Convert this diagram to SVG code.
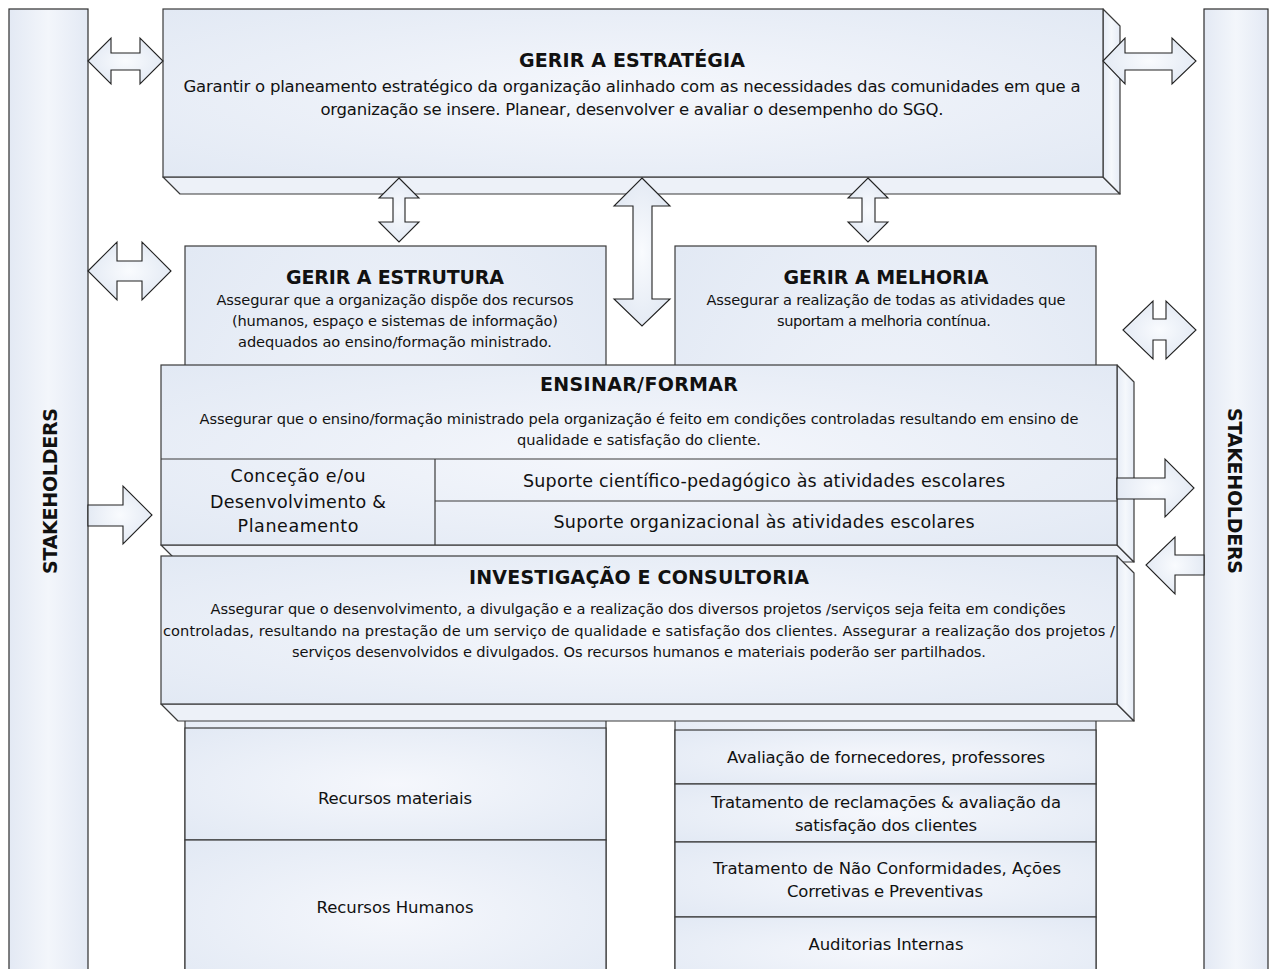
<svg xmlns="http://www.w3.org/2000/svg" width="1278" height="969" viewBox="0 0 1278 969">
<defs>
<radialGradient id="gBox" cx="50%" cy="50%" r="70%">
<stop offset="0" stop-color="#F5F7FC"/>
<stop offset="1" stop-color="#E2E9F4"/>
</radialGradient>
<radialGradient id="gArr" cx="50%" cy="50%" r="60%">
<stop offset="0" stop-color="#F9FBFE"/>
<stop offset="1" stop-color="#E0E7F2"/>
</radialGradient>
<linearGradient id="gBar" x1="0" y1="0" x2="1" y2="0">
<stop offset="0" stop-color="#E3E9F4"/>
<stop offset="0.5" stop-color="#F3F6FB"/>
<stop offset="1" stop-color="#E3E9F4"/>
</linearGradient>
<linearGradient id="gSide" x1="0" y1="0" x2="1" y2="0">
<stop offset="0" stop-color="#E6ECF6"/>
<stop offset="0.5" stop-color="#F5F8FC"/>
<stop offset="1" stop-color="#E6ECF6"/>
</linearGradient>
</defs>
<style>
.box{fill:url(#gBox);stroke:#3a3a3a;stroke-width:1.2}
.face{fill:#EDF1F8;stroke:#3a3a3a;stroke-width:1.2;stroke-linejoin:round}
.side{fill:url(#gSide);stroke:#3a3a3a;stroke-width:1.2;stroke-linejoin:round}
.bar{fill:url(#gBar);stroke:#2e2e2e;stroke-width:1.2}
.arr{fill:url(#gArr);stroke:#222;stroke-width:1.1;stroke-linejoin:miter}
.ln{stroke:#3a3a3a;stroke-width:1.2;fill:none}
text{font-family:"DejaVu Sans","Liberation Sans",sans-serif;fill:#111;text-anchor:middle}
.t{font-weight:bold;font-size:19px}
.b16{font-size:16.5px}
.b14{font-size:14.6px}
.b17{font-size:17.5px}
.sh{font-weight:bold;font-size:19px}
</style>

<g id="stakeholders-left">
<rect class="bar" x="9" y="9" width="79" height="970"/>
<text class="sh" transform="translate(57,491) rotate(-90)" textLength="166">STAKEHOLDERS</text>
</g>
<g id="stakeholders-right">
<rect class="bar" x="1204" y="9" width="64" height="970"/>
<text class="sh" transform="translate(1228,491) rotate(90)" textLength="166">STAKEHOLDERS</text>
</g>

<g id="gerir-estrutura">
<rect class="box" x="185" y="246" width="421" height="740"/>
<text class="t" x="395" y="284" textLength="218">GERIR A ESTRUTURA</text>
<text class="b14" x="395" y="305" textLength="357">Assegurar que a organização dispõe dos recursos</text>
<text class="b14" x="395" y="326" textLength="326">(humanos, espaço e sistemas de informação)</text>
<text class="b14" x="395" y="347" textLength="314">adequados ao ensino/formação ministrado.</text>
</g>
<g id="recursos-materiais">
<rect class="box" x="185" y="728" width="421" height="112"/>
<text class="b16" x="395" y="804" textLength="154">Recursos materiais</text>
</g>
<g id="recursos-humanos">
<rect class="box" x="185" y="840" width="421" height="150"/>
<text class="b16" x="395" y="913" textLength="157">Recursos Humanos</text>
</g>

<g id="gerir-melhoria">
<rect class="box" x="675" y="246" width="421" height="740"/>
<text class="t" x="886" y="284" textLength="205">GERIR A MELHORIA</text>
<text class="b14" x="886" y="305" textLength="359">Assegurar a realização de todas as atividades que</text>
<text class="b14" x="884" y="326" textLength="214">suportam a melhoria contínua.</text>
</g>
<g id="avaliacao-fornecedores">
<rect class="box" x="675" y="730" width="421" height="54"/>
<text class="b16" x="886" y="763" textLength="318">Avaliação de fornecedores, professores</text>
</g>
<g id="tratamento-reclamacoes">
<rect class="box" x="675" y="784" width="421" height="58"/>
<text class="b16" x="886" y="808" textLength="350">Tratamento de reclamações &amp; avaliação da</text>
<text class="b16" x="886" y="831" textLength="182">satisfação dos clientes</text>
</g>
<g id="tratamento-nc">
<rect class="box" x="675" y="842" width="421" height="75"/>
<text class="b16" x="887" y="874" textLength="348">Tratamento de Não Conformidades, Ações</text>
<text class="b16" x="885" y="897" textLength="196">Corretivas e Preventivas</text>
</g>
<g id="auditorias">
<rect class="box" x="675" y="917" width="421" height="70"/>
<text class="b16" x="886" y="950" textLength="155">Auditorias Internas</text>
</g>

<g id="gerir-estrategia">
<polygon class="face" points="163,177 1103,177 1120,194 180,194"/>
<polygon class="side" points="1103,9 1120,26 1120,194 1103,177"/>
<rect class="box" x="163" y="9" width="940" height="168"/>
<text class="t" x="632" y="67" textLength="226">GERIR A ESTRATÉGIA</text>
<text class="b16" x="632" y="92" textLength="897">Garantir o planeamento estratégico da organização alinhado com as necessidades das comunidades em que a</text>
<text class="b16" x="632" y="115" textLength="623">organização se insere. Planear, desenvolver e avaliar o desempenho do SGQ.</text>
</g>

<g id="ensinar-formar">
<polygon class="face" points="161,545 1117,545 1134,562 178,562"/>
<polygon class="side" points="1117,365 1134,382 1134,562 1117,545"/>
<rect class="box" x="161" y="365" width="956" height="180"/>
<line class="ln" x1="161" y1="459" x2="1117" y2="459"/>
<line class="ln" x1="435" y1="459" x2="435" y2="545"/>
<line class="ln" x1="435" y1="501" x2="1117" y2="501"/>
<text class="t" x="639" y="391" textLength="198">ENSINAR/FORMAR</text>
<text class="b14" x="639" y="424" textLength="879">Assegurar que o ensino/formação ministrado pela organização é feito em condições controladas resultando em ensino de</text>
<text class="b14" x="639" y="445" textLength="244">qualidade e satisfação do cliente.</text>
<text class="b17" x="298" y="482" textLength="135">Conceção e/ou</text>
<text class="b17" x="298" y="508" textLength="176">Desenvolvimento &amp;</text>
<text class="b17" x="298" y="532" textLength="121">Planeamento</text>
<text class="b17" x="764" y="487" textLength="482">Suporte científico-pedagógico às atividades escolares</text>
<text class="b17" x="764" y="528" textLength="421">Suporte organizacional às atividades escolares</text>
</g>

<g id="investigacao-consultoria">
<polygon class="face" points="161,704 1117,704 1134,721 178,721"/>
<polygon class="side" points="1117,556 1134,573 1134,721 1117,704"/>
<rect class="box" x="161" y="556" width="956" height="148"/>
<text class="t" x="639" y="584" textLength="340">INVESTIGAÇÃO E CONSULTORIA</text>
<text class="b14" x="638" y="614" textLength="855">Assegurar que o desenvolvimento, a divulgação e a realização dos diversos projetos /serviços seja feita em condições</text>
<text class="b14" x="639" y="636" textLength="952">controladas, resultando na prestação de um serviço de qualidade e satisfação dos clientes. Assegurar a realização dos projetos /</text>
<text class="b14" x="639" y="657" textLength="694">serviços desenvolvidos e divulgados. Os recursos humanos e materiais poderão ser partilhados.</text>
</g>

<g id="connectors">
<polygon class="arr" points="88,61 111,38 111,53 140,53 140,38 163,61 140,84 140,70 111,70 111,84"/>
<polygon class="arr" points="1103,61 1125,38 1125,53 1172,53 1172,38 1196,61 1172,84 1172,70 1125,70 1125,84"/>
<polygon class="arr" points="88,271 117,242 117,261 142,261 142,242 171,271 142,300 142,281 117,281 117,300"/>
<polygon class="arr" points="1123,330 1153,301 1153,319 1166,319 1166,301 1196,330 1166,359 1166,340 1153,340 1153,359"/>
<polygon class="arr" points="399,178 419,198 405,198 405,222 419,222 399,242 379,222 393,222 393,198 379,198"/>
<polygon class="arr" points="642,178 670,206 652,206 652,299 670,299 642,326 614,299 633,299 633,206 614,206"/>
<polygon class="arr" points="868,178 888,198 875,198 875,222 888,222 868,242 848,222 862,222 862,198 848,198"/>
<polygon class="arr" points="88,505 123,505 123,486 152,515 123,544 123,526 88,526"/>
<polygon class="arr" points="1117,478 1165,478 1165,459 1194,488 1165,517 1165,499 1117,499"/>
<polygon class="arr" points="1204,555 1175,555 1175,537 1146,565 1175,594 1175,575 1204,575"/>
</g>
</svg>
